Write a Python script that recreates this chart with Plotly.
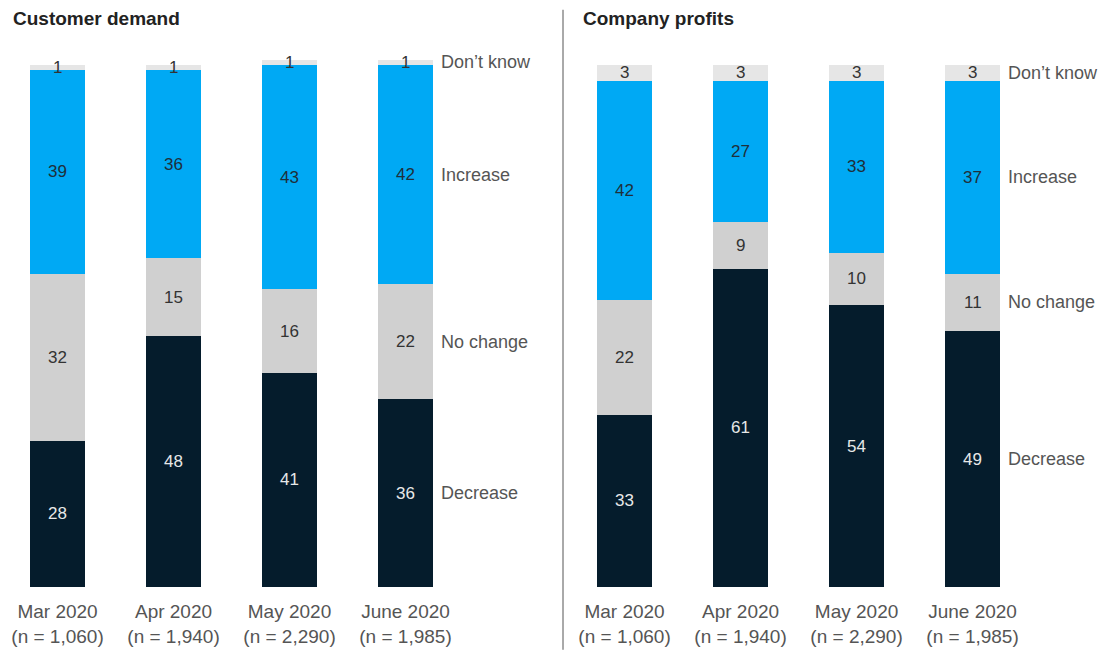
"""Customer demand vs company profits, stacked 100% bars per survey wave."""
import plotly.graph_objects as go

# --------------------------------------------------------------------------- #
# Data
# --------------------------------------------------------------------------- #
MONTHS = ["Mar 2020", "Apr 2020", "May 2020", "June 2020"]
SAMPLE_SIZES = ["1,060", "1,940", "2,290", "1,985"]
SEGMENTS = ["Decrease", "No change", "Increase", "Don\u2019t know"]

demand_decrease = [28, 48, 41, 36]
demand_no_change = [32, 15, 16, 22]
demand_increase = [39, 36, 43, 42]
demand_dont_know = [1, 1, 1, 1]

profits_decrease = [33, 61, 54, 49]
profits_no_change = [22, 9, 10, 11]
profits_increase = [42, 27, 33, 37]
profits_dont_know = [3, 3, 3, 3]

TICK_LABELS = [f"{m}<br>(n = {n})" for m, n in zip(MONTHS, SAMPLE_SIZES)]

# --------------------------------------------------------------------------- #
# Style
# --------------------------------------------------------------------------- #
COLORS = {
    "Decrease": "#051C2C",
    "No change": "#D0D0D0",
    "Increase": "#00A9F4",
    "Don\u2019t know": "#E6E6E6",
}
TEXT_COLORS = {
    "Decrease": "#E8E8E8",
    "No change": "#333333",
    "Increase": "#1F2F3A",
    "Don\u2019t know": "#333333",
}
FONT = "Liberation Sans, Arial, sans-serif"
LABEL_GREY = "#555555"

# the page body adds an 8px margin, so the figure is sized to fit inside it
W, H = 1102, 643

panels = [
    ("x", "Customer demand",
     [demand_decrease, demand_no_change, demand_increase, demand_dont_know]),
    ("x2", "Company profits",
     [profits_decrease, profits_no_change, profits_increase, profits_dont_know]),
]

fig = go.Figure()
annotations = []

for axis, title, series in panels:
    cum = [0] * len(MONTHS)
    for seg, values in zip(SEGMENTS, series):
        fig.add_trace(go.Bar(
            x=TICK_LABELS,
            y=values,
            name=seg,
            xaxis=axis,
            yaxis="y",
            width=0.475,
            marker_color=COLORS[seg],
            marker_line=dict(width=0),
            showlegend=False,
        ))
        for i, v in enumerate(values):
            annotations.append(dict(
                x=TICK_LABELS[i], y=cum[i] + v / 2, xref=axis, yref="y",
                text=str(v), showarrow=False,
                font=dict(family=FONT, size=17, color=TEXT_COLORS[seg]),
            ))
        # segment name next to the last bar
        annotations.append(dict(
            x=TICK_LABELS[-1], y=cum[-1] + values[-1] / 2, xref=axis, yref="y",
            text=seg, showarrow=False, xanchor="left", xshift=33,
            font=dict(family=FONT, size=18, color=LABEL_GREY),
        ))
        cum = [c + v for c, v in zip(cum, values)]

    annotations.append(dict(
        x=0.003 if axis == "x" else 0.52, y=1.0695, xref="paper", yref="paper",
        xanchor="left", yanchor="middle", text=f"<b>{title}</b>", showarrow=False,
        font=dict(family=FONT, size=19, color="#222222"),
    ))

axis_common = dict(
    type="category",
    showgrid=False, zeroline=False, showline=False,
    ticks="outside", ticklen=7, tickcolor="rgba(0,0,0,0)",
    tickfont=dict(family=FONT, size=19, color=LABEL_GREY),
    anchor="y",
)

fig.update_layout(
    width=W,
    height=H,
    paper_bgcolor="white",
    plot_bgcolor="white",
    barmode="stack",
    margin=dict(l=0, r=0, t=47, b=64),
    xaxis=dict(domain=[0, 552 / W], range=[-0.427, 4.332], **axis_common),
    xaxis2=dict(domain=[559 / W, 1], range=[-0.496, 4.185], **axis_common),
    yaxis=dict(range=[0, 101.9], visible=False, anchor="x"),
    annotations=annotations,
    shapes=[dict(
        type="line", xref="paper", yref="paper",
        x0=555 / W, x1=555 / W, y0=-0.118, y1=1.085,
        line=dict(color="#555555", width=1),
    )],
)

fig.write_html("out.html")
